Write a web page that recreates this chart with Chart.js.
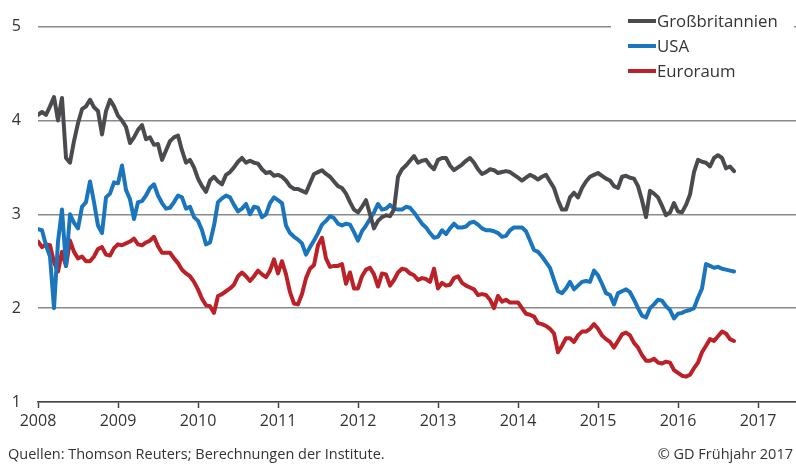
<!DOCTYPE html>
<html>
<head>
<meta charset="utf-8">
<script src="https://cdn.jsdelivr.net/npm/chart.js@4"></script>
<style>
  html, body { margin: 0; padding: 0; background: #fff; }
  #wrap { position: relative; width: 796px; height: 464px; font-family: "Open Sans", sans-serif; color: #333; }
  #footer-left { position: absolute; left: 8px; top: 444px; font-size: 14.5px; }
  #footer-right { position: absolute; right: 3px; top: 444px; font-size: 14.5px; }
</style>
</head>
<body>
<div id="wrap">
  <canvas id="chart" width="796" height="464"></canvas>
  <div id="footer-left">Quellen: Thomson Reuters; Berechnungen der Institute.</div>
  <div id="footer-right">© GD Frühjahr 2017</div>
</div>
<script>
// sampling: one value every 1/20 year from Jan 2008
const startYear = 2008;
const step = 0.05;
const yearTicks = [2008, 2009, 2010, 2011, 2012, 2013, 2014, 2015, 2016, 2017];
const valueTicks = [1, 2, 3, 4, 5];
const seriesNames = ["Großbritannien", "USA", "Euroraum"];

const gbValues = [4.06,4.09,4.06,4.15,4.25,4.0,4.24,3.6,3.55,3.78,
  3.97,4.12,4.15,4.22,4.14,4.1,3.85,4.1,4.22,4.15,
  4.05,4.0,3.93,3.76,3.82,3.9,3.95,3.8,3.82,3.74,
  3.75,3.58,3.68,3.78,3.82,3.84,3.68,3.55,3.58,3.5,
  3.38,3.3,3.24,3.36,3.4,3.35,3.32,3.42,3.45,3.5,
  3.56,3.6,3.55,3.57,3.55,3.54,3.48,3.44,3.45,3.41,
  3.42,3.4,3.36,3.3,3.27,3.27,3.25,3.23,3.33,3.43,
  3.45,3.47,3.43,3.4,3.35,3.3,3.28,3.22,3.13,3.05,
  3.02,3.08,3.15,3.0,2.85,2.93,2.97,2.99,2.98,3.05,
  3.4,3.48,3.52,3.57,3.62,3.55,3.57,3.58,3.52,3.48,
  3.58,3.6,3.6,3.52,3.47,3.5,3.53,3.57,3.6,3.55,
  3.48,3.43,3.45,3.48,3.47,3.44,3.45,3.46,3.45,3.42,
  3.39,3.36,3.39,3.42,3.4,3.37,3.4,3.42,3.35,3.28,
  3.15,3.05,3.05,3.18,3.23,3.18,3.28,3.35,3.4,3.42,
  3.44,3.41,3.38,3.36,3.3,3.28,3.4,3.41,3.39,3.38,
  3.3,3.15,2.97,3.25,3.22,3.18,3.09,2.99,3.02,3.12,
  3.03,3.02,3.1,3.21,3.45,3.58,3.56,3.55,3.51,3.6,
  3.63,3.6,3.49,3.51,3.46];

const usaValues = [2.84,2.83,2.67,2.55,2.0,2.71,3.05,2.45,3.0,2.91,
  2.85,3.08,3.13,3.35,3.13,2.88,2.8,3.18,3.22,3.34,
  3.33,3.52,3.26,3.16,2.95,3.13,3.14,3.2,3.28,3.32,
  3.2,3.12,3.06,3.07,3.13,3.2,3.18,3.06,3.08,2.97,
  2.93,2.83,2.68,2.7,2.88,3.13,3.17,3.2,3.18,3.1,
  3.03,3.06,3.11,3.0,3.08,3.07,2.97,3.0,3.12,3.18,
  3.15,3.12,2.88,2.8,2.76,2.73,2.69,2.57,2.65,2.72,
  2.8,2.89,2.93,2.98,2.96,2.9,2.88,2.9,2.89,2.81,
  2.72,2.82,2.88,2.95,3.02,3.11,3.05,3.06,3.1,3.06,
  3.05,3.05,3.08,3.07,3.02,2.96,2.9,2.86,2.8,2.75,
  2.76,2.83,2.79,2.85,2.9,2.86,2.86,2.87,2.91,2.92,
  2.89,2.85,2.83,2.83,2.82,2.8,2.76,2.77,2.83,2.86,
  2.86,2.86,2.82,2.72,2.62,2.6,2.55,2.49,2.43,2.3,
  2.18,2.16,2.21,2.28,2.2,2.24,2.28,2.29,2.28,2.4,
  2.35,2.26,2.16,2.14,2.04,2.16,2.18,2.2,2.17,2.09,
  2.0,1.92,1.9,2.0,2.04,2.09,2.08,2.02,1.98,1.89,
  1.94,1.95,1.97,1.98,2.0,2.11,2.21,2.47,2.45,2.43,
  2.44,2.42,2.41,2.4,2.39];

const euroValues = [2.71,2.65,2.68,2.67,2.49,2.39,2.6,2.45,2.72,2.6,
  2.53,2.55,2.5,2.5,2.55,2.63,2.65,2.57,2.56,2.64,
  2.68,2.67,2.69,2.71,2.74,2.68,2.67,2.7,2.72,2.76,
  2.66,2.59,2.59,2.59,2.53,2.48,2.41,2.37,2.34,2.28,
  2.2,2.1,2.03,2.02,1.95,2.13,2.15,2.18,2.21,2.25,
  2.34,2.38,2.34,2.29,2.34,2.4,2.36,2.33,2.4,2.52,
  2.37,2.5,2.36,2.17,2.05,2.04,2.15,2.32,2.42,2.46,
  2.67,2.75,2.53,2.44,2.45,2.45,2.47,2.26,2.38,2.21,
  2.21,2.34,2.41,2.43,2.36,2.23,2.37,2.36,2.24,2.3,
  2.38,2.42,2.41,2.37,2.35,2.3,2.32,2.31,2.28,2.42,
  2.21,2.27,2.24,2.25,2.32,2.34,2.27,2.24,2.22,2.2,
  2.14,2.15,2.14,2.09,2.0,2.13,2.07,2.09,2.06,2.06,
  2.06,2.0,1.94,1.93,1.91,1.84,1.83,1.81,1.78,1.73,
  1.53,1.6,1.68,1.68,1.64,1.71,1.75,1.75,1.78,1.83,
  1.78,1.71,1.67,1.64,1.58,1.65,1.72,1.74,1.71,1.63,
  1.58,1.5,1.44,1.44,1.46,1.42,1.41,1.43,1.42,1.34,
  1.31,1.28,1.27,1.29,1.36,1.42,1.53,1.6,1.67,1.65,
  1.7,1.75,1.73,1.67,1.65];

const colors = ["#4b4b4f", "#1a75bd", "#bb2127"];

const toPoints = (values) => values.map((v, i) => ({ x: startYear + i * step, y: v }));

// legend stacked in the top right corner, on a white box that cuts the top gridline
const legendBox = {
  id: "legendBox",
  afterDraw(chart) {
    const ctx = chart.ctx;
    ctx.save();
    ctx.fillStyle = "#fff";
    ctx.fillRect(611, 6, 183, 78);
    ctx.font = "16.8px 'Open Sans'";
    ctx.textBaseline = "middle";
    chart.data.datasets.forEach((ds, i) => {
      const y = 21 + i * 25;
      ctx.strokeStyle = ds.borderColor;
      ctx.lineWidth = 4;
      ctx.beginPath();
      ctx.moveTo(628, y);
      ctx.lineTo(656, y);
      ctx.stroke();
      ctx.fillStyle = "#333";
      ctx.fillText(ds.label, 657, y + 1);
    });
    ctx.restore();
  }
};

const ctx = document.getElementById("chart").getContext("2d");
new Chart(ctx, {
  type: "line",
  data: {
    datasets: [
      { label: seriesNames[0], data: toPoints(gbValues), borderColor: colors[0] },
      { label: seriesNames[1], data: toPoints(usaValues), borderColor: colors[1] },
      { label: seriesNames[2], data: toPoints(euroValues), borderColor: colors[2] }
    ]
  },
  options: {
    responsive: false,
    animation: false,
    layout: { padding: { top: 20, right: 0, bottom: 32, left: 0 } },
    elements: {
      point: { radius: 0 },
      line: { borderWidth: 4, tension: 0, borderJoinStyle: "round", borderCapStyle: "round", fill: false }
    },
    plugins: { legend: { display: false }, tooltip: { enabled: false } },
    scales: {
      x: {
        type: "linear",
        min: 2008,
        max: 2017.475,
        afterBuildTicks: (axis) => { axis.ticks = yearTicks.map((v) => ({ value: v })); },
        afterFit: (axis) => { axis.height = 30; },
        ticks: {
          callback: (v) => String(v),
          color: "#333",
          font: { family: "Open Sans", size: 16 },
          padding: 4,
          maxRotation: 0
        },
        grid: { drawOnChartArea: false, drawTicks: true, tickLength: 6, tickColor: "#444", tickWidth: 1.5 },
        border: { display: true, color: "#444", width: 1.5 }
      },
      y: {
        min: 1,
        max: 5,
        afterBuildTicks: (axis) => { axis.ticks = valueTicks.map((v) => ({ value: v })); },
        afterFit: (axis) => { axis.width = 38; },
        ticks: {
          color: "#333",
          font: { family: "Open Sans", size: 16 },
          padding: 17
        },
        grid: { color: "#8a8a8a", lineWidth: 1.5, drawTicks: false },
        border: { display: false }
      }
    }
  },
  plugins: [legendBox]
});
</script>
</body>
</html>
